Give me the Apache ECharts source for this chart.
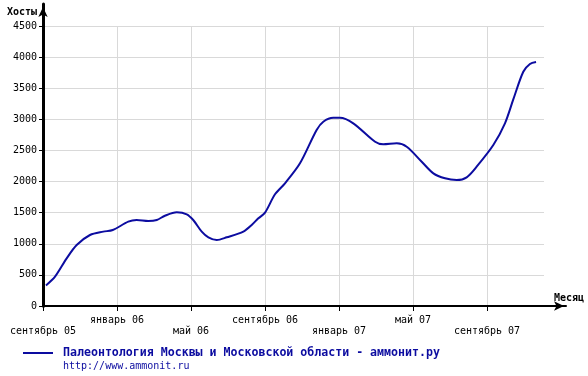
<!DOCTYPE html>
<html><head><meta charset="utf-8">
<script src="https://cdn.jsdelivr.net/npm/echarts@6/dist/echarts.min.js"></script>
<style>html,body{margin:0;padding:0;background:#fff}#c{width:588px;height:376px}</style>
</head><body><div id="c"></div>
<script>
// tick labels every 4 months starting at September 2005
const monthTicks = ['сентябрь 05','январь 06','май 06','сентябрь 06','январь 07','май 07','сентябрь 07'];
// months since start of September 2005
const months = [0.16,0.65,1.28,1.82,2.54,3.26,3.77,4.61,5.06,5.69,6.15,6.59,7.23,7.77,8.12,8.58,8.94,9.39,9.93,10.83,11.28,11.64,12.0,12.54,13.08,13.89,14.79,15.15,15.69,16.05,16.77,17.95,18.39,19.12,19.66,20.47,21.1,21.73,22.36,22.9,23.44,24.34,24.97,25.42,25.96,26.32,26.65];
// hosts per month
const hosts = [330,471,766,980,1141,1195,1221,1355,1382,1366,1382,1451,1506,1474,1382,1195,1104,1061,1104,1195,1302,1409,1500,1795,1972,2293,2829,2962,3025,3025,2936,2640,2598,2614,2560,2319,2132,2052,2025,2068,2239,2587,2936,3320,3765,3889,3921];
const seriesName = 'Палеонтология Москвы и Московской области - аммонит.ру';
const siteUrl = 'http://www.ammonit.ru';
const yTitle = 'Хосты';
const xTitle = 'Месяц';

const mono = '"DejaVu Sans Mono", monospace';
const blue = '#0c0ca0';
const chart = echarts.init(document.getElementById('c'));
chart.setOption({
  animation: false,
  backgroundColor: '#fff',
  title: {
    text: siteUrl, left: 63, top: 361, padding: 0,
    textStyle: {fontFamily: mono, fontSize: 10, fontWeight: 'normal', color: blue}
  },
  legend: {
    left: 23, top: 347, padding: 0, icon: 'rect', itemWidth: 30, itemHeight: 2,
    textStyle: {fontFamily: mono, fontSize: 11.6, fontWeight: 'bold', color: blue, padding: [0,0,0,5]},
    data: [seriesName]
  },
  grid: [
    {left: 43, right: 44, top: 26, bottom: 70},
    {left: 43, right: 22, top: 4, bottom: 70}
  ],
  xAxis: [
    {type: 'value', gridIndex: 0, min: 0, max: 27.08, interval: 4,
     axisLine: {show: true, onZero: false, lineStyle: {color: '#000', width: 2}},
     axisTick: {show: true, length: 5, lineStyle: {color: '#000', width: 1}},
     splitLine: {show: true, showMinLine: false, showMaxLine: false, lineStyle: {color: '#d9d9d9', width: 1}},
     axisLabel: {margin: 9, fontFamily: mono, fontSize: 10, color: '#000', lineHeight: 11,
       showMaxLabel: false,
       formatter: function (v) {
         const i = Math.round(v / 4);
         if (Math.abs(v - i * 4) > 1e-6 || i >= monthTicks.length) return '';
         return i % 2 === 0 ? '\n' + monthTicks[i] : monthTicks[i];
       }}},
    {type: 'value', gridIndex: 1, min: 0, max: 1,
     axisLine: {show: true, lineStyle: {color: '#000', width: 2}, symbol: ['none', 'arrow'], symbolSize: [7, 10], symbolOffset: [0, -2]},
     axisTick: {show: false}, axisLabel: {show: false}, splitLine: {show: false},
     name: xTitle, nameLocation: 'end', nameGap: 18,
     nameTextStyle: {fontFamily: mono, fontSize: 10, fontWeight: 'bold', color: '#000', align: 'right', verticalAlign: 'bottom', padding: [0,0,3,0]}}
  ],
  yAxis: [
    {type: 'value', gridIndex: 0, min: 0, max: 4500, interval: 500,
     axisLine: {show: true, lineStyle: {color: '#000', width: 3}},
     axisTick: {show: true, length: 4, lineStyle: {color: '#000', width: 1}},
     splitLine: {show: true, showMinLine: false, lineStyle: {color: '#d9d9d9', width: 1}},
     axisLabel: {margin: 6, fontFamily: mono, fontSize: 10, color: '#000', formatter: function (v) { return String(v); }}},
    {type: 'value', gridIndex: 1, min: 0, max: 1,
     axisLine: {show: true, lineStyle: {color: '#000', width: 3}, symbol: ['none', 'arrow'], symbolSize: [7, 10], symbolOffset: [0, -3]},
     axisTick: {show: false}, axisLabel: {show: false}, splitLine: {show: false},
     name: yTitle, nameLocation: 'end', nameGap: -8,
     nameTextStyle: {fontFamily: mono, fontSize: 10, fontWeight: 'bold', color: '#000', align: 'right', verticalAlign: 'middle', padding: [0,6,0,0]}}
  ],
  series: [{
    name: seriesName, type: 'line', xAxisIndex: 0, yAxisIndex: 0,
    data: months.map((m, i) => [m, hosts[i]]),
    smooth: 0.3, showSymbol: false, symbol: 'none',
    lineStyle: {color: blue, width: 2}, itemStyle: {color: blue}
  }]
});
</script></body></html>
